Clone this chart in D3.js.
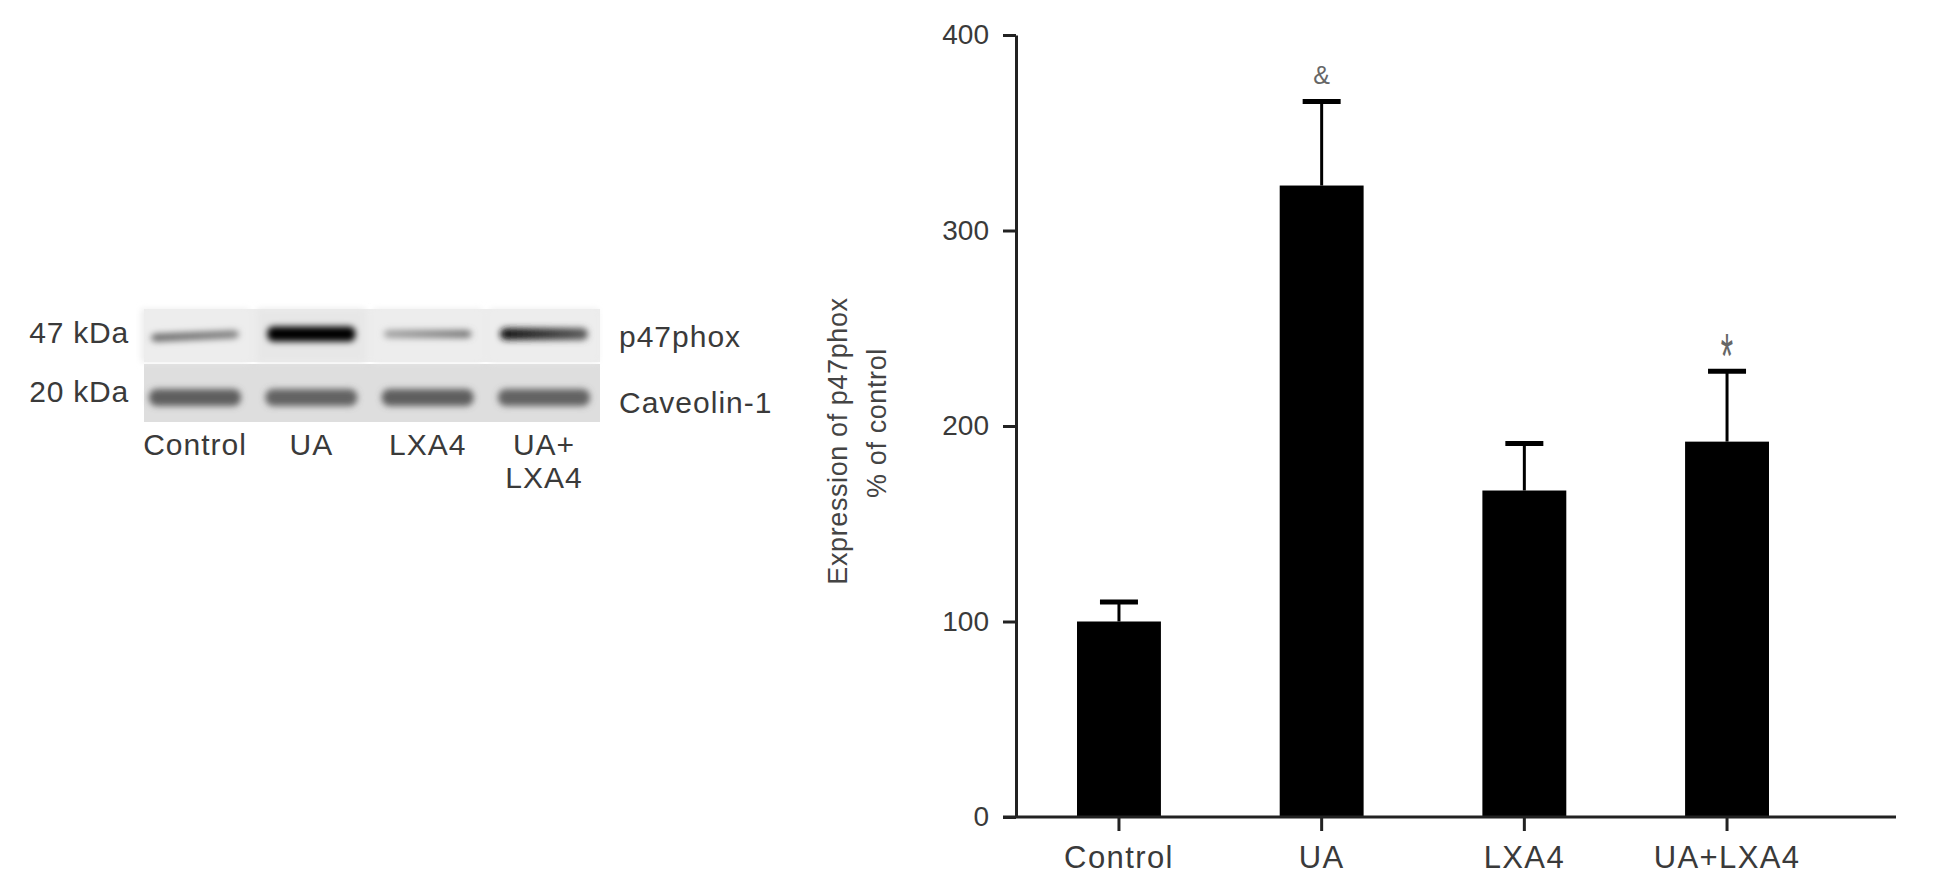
<!DOCTYPE html>
<html>
<head>
<meta charset="utf-8">
<script src="https://cdn.jsdelivr.net/npm/d3@7"></script>
<style>
  html, body { margin: 0; padding: 0; background: #fff; }
  svg text { font-family: "Liberation Sans", Arial, Helvetica, sans-serif; fill: #3a3a3a; }
</style>
</head>
<body>
<div id="chart"></div>
<script>
// groups on the bar chart
const groups = ['Control', 'UA', 'LXA4', 'UA+LXA4'];
// mean expression, % of control
const expression = [100, 323, 167, 192];
// top of the error bar (mean + SD)
const errorTop = [110, 366, 191, 228];
// significance marks above each bar
const marks = ['', '&', '', '*'];
const yTicks = [0, 100, 200, 300, 400];

// blot lanes and band darkness (0 = no band, 1 = black)
const laneLabels = [['Control'], ['UA'], ['LXA4'], ['UA+', 'LXA4']];
const p47Left = [0.55, 1.0, 0.3, 0.95];
const p47Right = [0.45, 1.0, 0.5, 0.6];
const p47Thick = [8, 15, 8, 12];
const cavDark = [0.6, 0.58, 0.6, 0.58];
const blotRows = ['47 kDa', '20 kDa'];
const blotNames = ['p47phox', 'Caveolin-1'];

const W = 1937, H = 894;

const svg = d3.select('#chart')
  .append('svg')
  .attr('width', W)
  .attr('height', H);

const defs = svg.append('defs');
defs.append('filter')
  .attr('id', 'soft')
  .attr('x', '-20%').attr('y', '-100%')
  .attr('width', '140%').attr('height', '300%')
  .append('feGaussianBlur')
  .attr('stdDeviation', 3.2);

// ---------- western blot ----------
const grey = t => d3.interpolateRgb('#e6e6e6', '#050505')(t);

const lane = d3.scaleBand()
  .domain(groups)
  .range([144, 595])
  .paddingInner(0.243)
  .paddingOuter(0.06);

const blot = svg.append('g');

// panels
blot.append('rect')
  .attr('x', 144).attr('y', 309)
  .attr('width', 456).attr('height', 53)
  .attr('fill', '#ececec');
blot.append('rect')
  .attr('x', 144).attr('y', 364)
  .attr('width', 456).attr('height', 58)
  .attr('fill', '#dedede');

// slight lane tint on the top panel
blot.selectAll('rect.tint')
  .data(groups)
  .join('rect')
  .attr('class', 'tint')
  .attr('x', d => lane(d) - 10)
  .attr('y', 309)
  .attr('width', lane.bandwidth() + 20)
  .attr('height', 53)
  .attr('fill', (d, i) => i === 1 ? '#e7e7e7' : '#ededed')
  .attr('filter', 'url(#soft)');

// gradients for p47phox bands
groups.forEach((g, i) => {
  const grad = defs.append('linearGradient')
    .attr('id', 'p47g' + i)
    .attr('x1', '0%').attr('x2', '100%');
  grad.append('stop').attr('offset', '0%').attr('stop-color', grey(p47Left[i]));
  grad.append('stop').attr('offset', '100%').attr('stop-color', grey(p47Right[i]));
});

blot.selectAll('rect.p47')
  .data(groups)
  .join('rect')
  .attr('class', 'p47')
  .attr('x', d => lane(d))
  .attr('y', (d, i) => 334 - p47Thick[i] / 2 + (i === 0 ? 2 : 0))
  .attr('width', lane.bandwidth())
  .attr('height', (d, i) => p47Thick[i])
  .attr('rx', 6)
  .attr('fill', (d, i) => `url(#p47g${i})`)
  .attr('transform', (d, i) => i === 0 ? `rotate(-2.5 ${lane(d) + lane.bandwidth() / 2} 336)` : null)
  .attr('filter', 'url(#soft)');

blot.selectAll('rect.cav')
  .data(groups)
  .join('rect')
  .attr('class', 'cav')
  .attr('x', d => lane(d) - 2)
  .attr('y', 389)
  .attr('width', lane.bandwidth() + 4)
  .attr('height', 17)
  .attr('rx', 8)
  .attr('fill', (d, i) => grey(cavDark[i]))
  .attr('filter', 'url(#soft)');

// row labels
blot.selectAll('text.kda')
  .data(blotRows)
  .join('text')
  .attr('class', 'kda')
  .attr('x', 129)
  .attr('y', (d, i) => i === 0 ? 343 : 402)
  .attr('text-anchor', 'end')
  .style('font-size', '30px')
  .style('letter-spacing', '0.8px')
  .text(d => d);

blot.selectAll('text.prot')
  .data(blotNames)
  .join('text')
  .attr('class', 'prot')
  .attr('x', 619)
  .attr('y', (d, i) => i === 0 ? 347 : 413)
  .style('font-size', '30px')
  .style('letter-spacing', '1px')
  .text(d => d);

blot.selectAll('text.lane')
  .data(laneLabels)
  .join('text')
  .attr('class', 'lane')
  .attr('text-anchor', 'middle')
  .style('font-size', '30px')
  .style('letter-spacing', '1px')
  .each(function(lines, i) {
    const cx = lane(groups[i]) + lane.bandwidth() / 2;
    d3.select(this).selectAll('tspan')
      .data(lines)
      .join('tspan')
      .attr('x', cx)
      .attr('y', (d, j) => 455 + j * 33)
      .text(d => d);
  });

// ---------- bar chart ----------
const x = d3.scaleBand()
  .domain(groups)
  .range([1016, 1830])
  .paddingInner(0.586)
  .paddingOuter(0.301);

const y = d3.scaleLinear()
  .domain([0, 400])
  .range([817, 35]);

const chart = svg.append('g');

// bars
chart.selectAll('rect.bar')
  .data(groups)
  .join('rect')
  .attr('class', 'bar')
  .attr('x', d => x(d))
  .attr('y', (d, i) => y(expression[i]))
  .attr('width', x.bandwidth())
  .attr('height', (d, i) => y(0) - y(expression[i]))
  .attr('fill', '#000');

// error bars
const cx = d => x(d) + x.bandwidth() / 2;
chart.selectAll('line.err')
  .data(groups)
  .join('line')
  .attr('class', 'err')
  .attr('x1', cx).attr('x2', cx)
  .attr('y1', (d, i) => y(expression[i]))
  .attr('y2', (d, i) => y(errorTop[i]))
  .attr('stroke', '#000')
  .attr('stroke-width', 3);

chart.selectAll('line.cap')
  .data(groups)
  .join('line')
  .attr('class', 'cap')
  .attr('x1', d => cx(d) - 19).attr('x2', d => cx(d) + 19)
  .attr('y1', (d, i) => y(errorTop[i]))
  .attr('y2', (d, i) => y(errorTop[i]))
  .attr('stroke', '#000')
  .attr('stroke-width', 5);

// significance marks
chart.selectAll('text.mark')
  .data(groups)
  .join('text')
  .attr('class', 'mark')
  .attr('transform', (d, i) => marks[i] === '*'
    ? `translate(${cx(d)},${y(errorTop[i]) + 6}) scale(0.72,1.45)`
    : `translate(${cx(d)},${y(errorTop[i]) - 17})`)
  .attr('text-anchor', 'middle')
  .style('font-size', (d, i) => marks[i] === '*' ? '44px' : '25px')
  .style('fill', '#666')
  .text((d, i) => marks[i]);

// y axis
const yAxis = chart.append('g')
  .attr('transform', 'translate(1016,0)')
  .call(d3.axisLeft(y).tickValues(yTicks).tickSize(13).tickSizeOuter(0).tickPadding(14));
yAxis.select('.domain').attr('stroke', '#222').attr('stroke-width', 3);
yAxis.selectAll('.tick line').attr('stroke', '#222').attr('stroke-width', 3);
yAxis.selectAll('.tick text')
  .style('font-size', '28px')
  .style('font-family', '"Liberation Sans", Arial, sans-serif')
  .attr('fill', '#444');

// x axis
const xAxis = chart.append('g')
  .attr('transform', 'translate(0,817)')
  .call(d3.axisBottom(x).tickSize(14).tickSizeOuter(0).tickPadding(15));
xAxis.select('.domain').remove();
xAxis.selectAll('.tick line').attr('stroke', '#222').attr('stroke-width', 3);
xAxis.selectAll('.tick text')
  .style('font-size', '31px')
  .style('letter-spacing', '1.4px')
  .style('font-family', '"Liberation Sans", Arial, sans-serif')
  .attr('fill', '#444');

chart.append('line')
  .attr('x1', 1003).attr('x2', 1896)
  .attr('y1', y(0)).attr('y2', y(0))
  .attr('stroke', '#222')
  .attr('stroke-width', 3);

// y axis title
chart.append('text')
  .attr('transform', 'translate(847,441) rotate(-90)')
  .attr('text-anchor', 'middle')
  .style('font-size', '27px')
  .style('letter-spacing', '0.6px')
  .style('fill', '#444')
  .text('Expression of p47phox');
chart.append('text')
  .attr('transform', 'translate(886,423) rotate(-90)')
  .attr('text-anchor', 'middle')
  .style('font-size', '27px')
  .style('letter-spacing', '0.6px')
  .style('fill', '#444')
  .text('% of control');
</script>
</body>
</html>
